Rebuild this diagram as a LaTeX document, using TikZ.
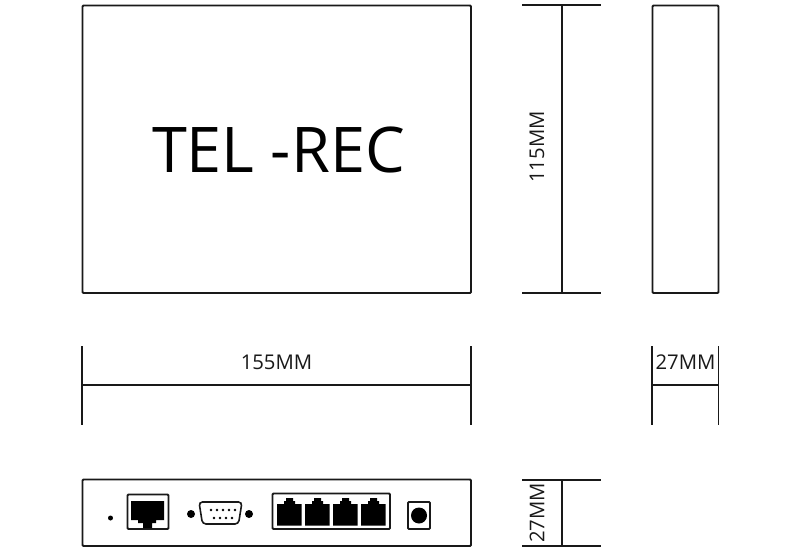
\documentclass[tikz,border=0pt]{standalone}
\usepackage{fontspec}
\setmainfont{Open Sans}
\tikzset{
  x=1pt,y=-1pt,
  outline/.style={draw=black!90,line width=1.9pt,rounded corners=1pt,inner sep=0pt,outer sep=0pt,fill=white},
  dimline/.style={draw=black!90,line width=1.9pt},
  dimtext/.style={font=\fontsize{20.3}{24}\selectfont,text=black!90,inner sep=0pt},
  solid black/.style={fill=black,draw=none},
  led/.style={circle,fill=black,inner sep=0pt,outer sep=0pt}
}
\newcommand{\boxnode}[5]{\node[outline,anchor=north west,minimum width=#4-#2,minimum height=#5-#3] (#1) at (#2,#3) {};}
\newcommand{\jack}[1]{\fill[solid black,shift={(#1,0)}] (0,525.5) -- (0,504) -- (7,504) -- (7,501) -- (9,501) -- (9,498) -- (16,498) -- (16,501) -- (18,501) -- (18,504) -- (24.5,504) -- (24.5,525.5) -- cycle;}
\begin{document}
\begin{tikzpicture}
\useasboundingbox (0,0) rectangle (799,553);
% top view
\boxnode{topview}{82.5}{5.5}{471}{293}
\node[font=\fontsize{63}{70}\selectfont,text=black,inner sep=0pt] (logo) at (278.5,149.5) {TEL -REC};
% side view
\boxnode{sideview}{652.5}{5.5}{718.5}{293}
% 115 dim
\coordinate (ha) at (522,5);\coordinate (hb) at (601,5);
\coordinate (hc) at (522,293);\coordinate (hd) at (601,293);
\coordinate (hm) at (562,5);\coordinate (hn) at (562,293);
\draw[dimline] (ha)--(hb) (hc)--(hd) (hm)--(hn);
\node[dimtext,rotate=90] (dimh) at (537,147) {115MM};
% 155 dim
\coordinate (wa) at (82,346);\coordinate (wb) at (82,425);
\coordinate (wc) at (471,346);\coordinate (wd) at (471,425);
\coordinate (wm) at (82,385);\coordinate (wn) at (471,385);
\draw[dimline] (wa)--(wb) (wc)--(wd) (wm)--(wn);
\node[dimtext] (dimw) at (276.5,362.5) {155MM};
% 27 dim right
\coordinate (sa) at (652,346);\coordinate (sb) at (652,425);
\coordinate (sc) at (718.5,346);\coordinate (sd) at (718.5,425);
\coordinate (sm) at (652,385);\coordinate (sn) at (718.5,385);
\draw[dimline] (sa)--(sb) (sc)--(sd) (sm)--(sn);
\node[dimtext] (dims) at (685.5,362.5) {27MM};
% 27 dim bottom
\coordinate (ba) at (522,480);\coordinate (bb) at (601,480);
\coordinate (bc) at (522,546);\coordinate (bd) at (601,546);
\coordinate (bm) at (562,480);\coordinate (bn) at (562,546);
\draw[dimline] (ba)--(bb) (bc)--(bd) (bm)--(bn);
\node[dimtext,rotate=90] (dimb) at (537,513) {27MM};
% front panel
\boxnode{front}{82.5}{479.5}{471}{546}
\node[led,minimum size=5pt] (ledone) at (110.5,518) {};
\boxnode{wan}{127.5}{494.5}{168.5}{529}
\fill[solid black] (131,501) -- (164,501) -- (164,520) -- (156,520) -- (156,523) -- (152,523) -- (152,528) -- (143,528) -- (143,523) -- (138,523) -- (138,520) -- (131,520) -- cycle;
\node[led,minimum size=8pt] (screwa) at (191,514) {};
\node[led,minimum size=8pt] (screwb) at (249,514) {};
\draw[draw=black!90,line width=1.6pt,rounded corners=3.5pt,fill=white] (199,502) -- (242,502) -- (238.5,524) -- (202.5,524) -- cycle;
\foreach \px in {211,217,223,229,235} \fill[black] (\px,510) circle (1.3);
\foreach \px in {214,220,226,232} \fill[black] (\px,518) circle (1.3);
\boxnode{lan}{272.5}{493.5}{390}{529}
\jack{277}\jack{305}\jack{333}\jack{361}
\boxnode{power}{408}{502}{430}{529}
\node[led,minimum size=16pt] (barrel) at (419,515.5) {};
\end{tikzpicture}
\end{document}
